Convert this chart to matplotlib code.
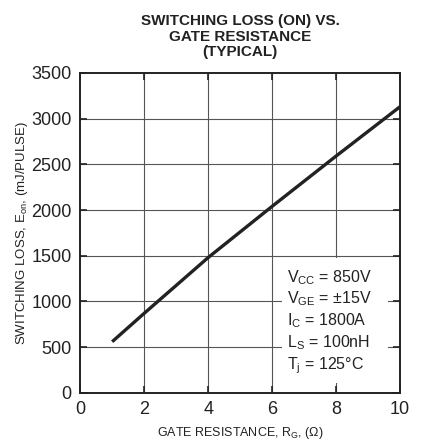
import matplotlib
matplotlib.use("Agg")
import matplotlib.pyplot as plt
from matplotlib.patches import Rectangle

plt.rcParams['font.family'] = ['Liberation Sans', 'DejaVu Sans']
plt.rcParams['mathtext.fontset'] = 'custom'
plt.rcParams['mathtext.rm'] = 'Liberation Sans'
plt.rcParams['mathtext.it'] = 'Liberation Sans'
plt.rcParams['mathtext.bf'] = 'Liberation Sans:bold'

# gate resistance (ohm) vs turn-on switching loss (mJ/pulse)
rg = [1, 2, 4, 6, 8, 10]
eon = [560, 870, 1480, 2040, 2590, 3130]

xticks = [0, 2, 4, 6, 8, 10]
yticks = [0, 500, 1000, 1500, 2000, 2500, 3000, 3500]

conditions = ["V$_{\\mathrm{CC}}$ = 850V", "V$_{\\mathrm{GE}}$ = \u00b115V",
              "I$_{\\mathrm{C}}$ = 1800A", "L$_{\\mathrm{S}}$ = 100nH",
              "T$_{\\mathrm{j}}$ = 125\u00b0C"]
cond_y = [1215, 975, 735, 495, 255]

ink = "#222222"

fig = plt.figure(figsize=(4.22, 4.47), dpi=100)
ax = fig.add_axes([0.19, 0.121, 0.758, 0.716])

# grid drawn by hand so the white box can hide it but not the ticks
for x in xticks[1:-1]:
    ax.axvline(x, color="#555555", lw=0.8, zorder=1)
for y in yticks[1:-1]:
    ax.axhline(y, color="#555555", lw=0.8, zorder=1)

ax.plot(rg, eon, color=ink, lw=2.4, solid_capstyle="butt", zorder=5)

ax.add_patch(Rectangle((6.31, 110), 3.31, 1360, facecolor="white",
                       edgecolor="none", zorder=2))
for txt, yy in zip(conditions, cond_y):
    ax.text(6.47, yy, txt, fontsize=11.5, va="baseline", ha="left",
            color=ink, zorder=3)

ax.set_xlim(0, 10)
ax.set_ylim(0, 3500)
ax.set_xticks(xticks)
ax.set_yticks(yticks)
ax.tick_params(direction="in", length=5, width=1.2, labelsize=13,
               top=True, right=True, pad=6, colors=ink)
for s in ax.spines.values():
    s.set_linewidth(1.4)
    s.set_color(ink)

ax.set_xlabel("GATE RESISTANCE, R$_{\\mathrm{G}}$, ($\\Omega$)", fontsize=9,
              labelpad=5, color=ink)
ax.set_ylabel("SWITCHING LOSS, E$_{\\mathrm{on}}$, (mJ/PULSE)", fontsize=9.5,
              labelpad=1, color=ink)
ax.set_title("SWITCHING LOSS (ON) VS.\nGATE RESISTANCE\n(TYPICAL)",
             fontsize=11, fontweight="bold", linespacing=1.15, pad=12,
             color=ink)

fig.savefig("out.png", dpi=100)
